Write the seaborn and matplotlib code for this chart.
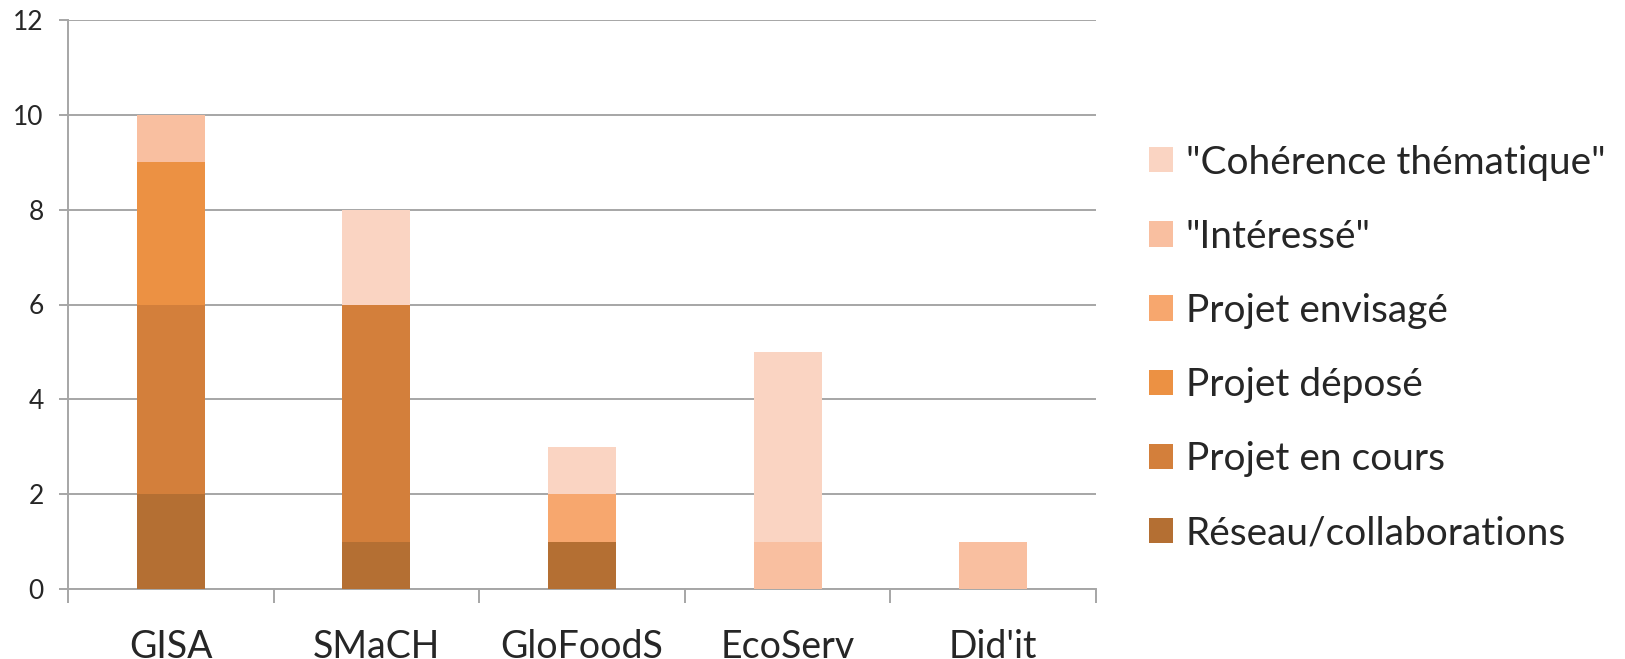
import numpy as np
import pandas as pd
import matplotlib
matplotlib.use('Agg')
import matplotlib.pyplot as plt
from matplotlib.patches import Patch
import seaborn as sns

# Data
categories = ['GISA', 'SMaCH', 'GloFoodS', 'EcoServ', "Did'it"]
series_names = ['Réseau/collaborations', 'Projet en cours', 'Projet déposé',
                'Projet envisagé', '"Intéressé"', '"Cohérence thématique"']
reseau = [2, 1, 1, 0, 0]
en_cours = [4, 5, 0, 0, 0]
depose = [3, 0, 0, 0, 0]
envisage = [0, 0, 1, 0, 0]
interesse = [1, 0, 0, 1, 1]
coherence = [0, 2, 1, 4, 0]
colors = ['#b46f33', '#d37f3b', '#ec9143', '#f7a76e', '#f9bfa0', '#fad4c2']

sns.set_theme(style='white')
plt.rcParams['font.family'] = ['Lato', 'DejaVu Sans']

values = np.array([reseau, en_cours, depose, envisage, interesse, coherence])
cum = values.cumsum(axis=0)

fig = plt.figure(figsize=(16.25, 6.59), dpi=100)
ax = fig.add_axes([68 / 1625, 70 / 659, (1096 - 68) / 1625, (589 - 20) / 659])

# stacked bars: draw totals first, then lower layers on top
for i in reversed(range(len(series_names))):
    sns.barplot(x=categories, y=cum[i], color=colors[i], saturation=1,
                width=0.33, ax=ax, edgecolor='none', zorder=3)

grey = '#a6a6a6'
ax.set_ylim(0, 12)
ax.set_xlim(-0.5, 4.5)
ax.set_yticks(range(0, 13, 2))
ax.yaxis.grid(True, color=grey, linewidth=1.4, zorder=0)
ax.set_axisbelow(True)
for s in ['top', 'right']:
    ax.spines[s].set_visible(False)
for s in ['left', 'bottom']:
    ax.spines[s].set_color(grey)
    ax.spines[s].set_linewidth(1.4)

ax.set_xticks(range(len(categories)))
ax.set_xticklabels(categories, fontsize=27)
ax.set_xticks(np.arange(-0.5, 5, 1), minor=True)
ax.tick_params(axis='x', which='major', length=0, pad=29)
ax.tick_params(axis='x', which='minor', length=10, width=1.4, color=grey, bottom=True)
ax.tick_params(axis='y', length=6.5, width=1.4, color=grey, labelsize=19, pad=11, left=True)
ax.set_xlabel('')
ax.set_ylabel('')

handles = [Patch(facecolor=c, edgecolor='none') for c in colors]
fig.legend(handles[::-1], series_names[::-1], loc='upper left',
           bbox_to_anchor=(1133 / 1625, 1 - 129 / 659), frameon=False,
           fontsize=28, handlelength=0.62, handleheight=0.62,
           handletextpad=0.33, labelspacing=0.98, borderaxespad=0)

fig.savefig('out.png', dpi=100)
